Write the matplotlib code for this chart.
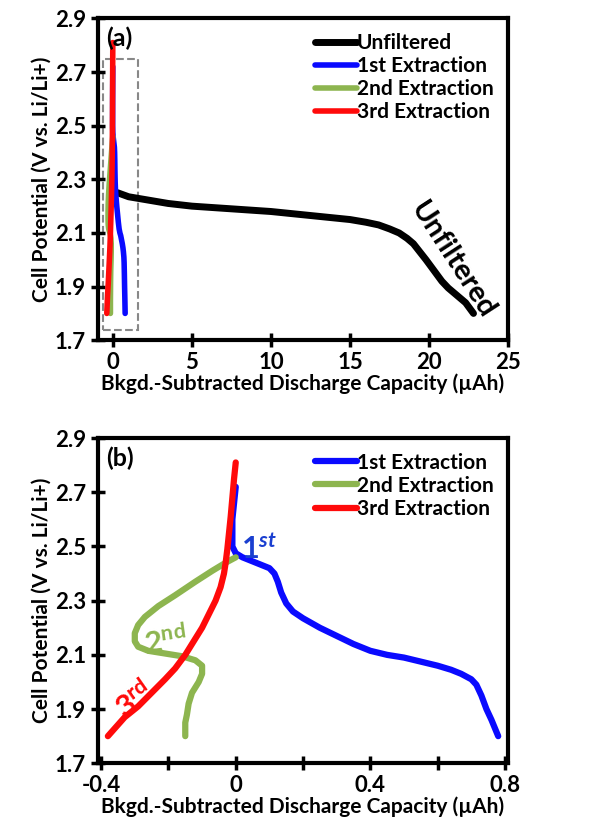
import numpy as np
import matplotlib
matplotlib.use("Agg")
import matplotlib.pyplot as plt
from matplotlib.patches import Rectangle

plt.rcParams['font.family'] = ['Lato', 'DejaVu Sans']
plt.rcParams['font.weight'] = 'bold'
plt.rcParams['mathtext.fontset'] = 'custom'
plt.rcParams['mathtext.rm'] = 'Lato:bold'
plt.rcParams['mathtext.it'] = 'Lato:bold:italic'

# unfiltered discharge curve (µAh, V)
unf_x = [0.3, 1, 2, 3.5, 5, 7.5, 10, 12.5, 15, 16, 16.8, 17.5, 18.1, 18.6, 19.0, 19.4, 19.8, 20.3, 20.8, 21.2, 21.7, 22.3, 22.8]
unf_y = [2.25, 2.235, 2.225, 2.21, 2.20, 2.19, 2.18, 2.165, 2.15, 2.14, 2.13, 2.115, 2.10, 2.08, 2.06, 2.03, 2.00, 1.96, 1.92, 1.895, 1.87, 1.84, 1.80]

# extractions
ext1_x = [0.0, -0.01, -0.01, 0.0, 0.02, 0.05, 0.08, 0.10, 0.115, 0.125, 0.135, 0.15, 0.17, 0.20, 0.25, 0.30, 0.35, 0.40, 0.45, 0.50, 0.55, 0.60, 0.64, 0.67, 0.70, 0.715, 0.73, 0.745, 0.76, 0.78]
ext1_y = [2.72, 2.60, 2.50, 2.475, 2.46, 2.445, 2.43, 2.42, 2.40, 2.37, 2.33, 2.29, 2.26, 2.235, 2.20, 2.17, 2.14, 2.115, 2.10, 2.09, 2.075, 2.06, 2.045, 2.03, 2.01, 1.99, 1.95, 1.90, 1.86, 1.80]
ext2_x = [0.0, -0.03, -0.07, -0.12, -0.18, -0.23, -0.27, -0.29, -0.30, -0.30, -0.29, -0.26, -0.21, -0.16, -0.12, -0.10, -0.10, -0.11, -0.13, -0.14, -0.145, -0.15, -0.15]
ext2_y = [2.46, 2.44, 2.41, 2.37, 2.32, 2.28, 2.24, 2.21, 2.18, 2.15, 2.13, 2.115, 2.105, 2.095, 2.08, 2.06, 2.03, 2.00, 1.96, 1.92, 1.88, 1.85, 1.80]
ext3_x = [0.0, -0.005, -0.01, -0.015, -0.02, -0.025, -0.03, -0.035, -0.045, -0.06, -0.08, -0.10, -0.125, -0.15, -0.18, -0.21, -0.25, -0.29, -0.33, -0.38]
ext3_y = [2.81, 2.75, 2.68, 2.61, 2.55, 2.49, 2.44, 2.40, 2.35, 2.30, 2.25, 2.20, 2.15, 2.10, 2.05, 2.01, 1.96, 1.91, 1.87, 1.80]

labels = ["1st Extraction", "2nd Extraction", "3rd Extraction"]
colors = ["#0a0aff", "#8db54f", "#ff0a0a"]
curves = [(ext1_x, ext1_y), (ext2_x, ext2_y), (ext3_x, ext3_y)]

fig = plt.figure(figsize=(5.89, 8.36), dpi=100)
ax1 = fig.add_axes([0.166, 0.593, 0.697, 0.385])
ax2 = fig.add_axes([0.166, 0.087, 0.697, 0.389])

ax1.plot(unf_x, unf_y, color="black", lw=5, label="Unfiltered", solid_capstyle="round")
for (x, y), c, l in zip(curves, colors, labels):
    ax1.plot(x, y, color=c, lw=4, label=l, solid_capstyle="round")
    ax2.plot(x, y, color=c, lw=4.5, label=l, solid_capstyle="round")

ax1.add_patch(Rectangle((-0.6, 1.74), 2.2, 1.01, fill=False, ec="#888888", ls="--", lw=1.5))
ax1.set_xlim(-0.95, 25)
ax1.set_xticks([0, 5, 10, 15, 20, 25])
ax2.set_xlim(-0.41, 0.81)
ax2.set_xticks([-0.4, 0, 0.4, 0.8])
ax2.set_xticklabels(["-0.4", "0", "0.4", "0.8"])
ax2.set_xticks([-0.2, 0.2, 0.6], minor=True)

for ax, tag in [(ax1, "(a)"), (ax2, "(b)")]:
    ax.set_ylim(1.7, 2.9)
    ax.set_yticks([1.7, 1.9, 2.1, 2.3, 2.5, 2.7, 2.9])
    ax.tick_params(which="both", direction="inout", length=10, width=2.5, labelsize=16)
    for s in ax.spines.values():
        s.set_linewidth(3)
    ax.set_xlabel("Bkgd.-Subtracted Discharge Capacity (µAh)", fontsize=15, fontweight="bold", labelpad=0)
    ax.set_ylabel("Cell Potential (V vs. Li/Li+)", fontsize=15, fontweight="bold", labelpad=2)
    ax.text(0.02, 0.975, tag, transform=ax.transAxes, fontsize=18, fontweight="bold", va="top")
    ax.legend(loc="upper right", frameon=False, handlelength=2.0, handletextpad=0,
              labelspacing=0.15, borderaxespad=0.3, prop={"weight": "bold", "size": 15})

ax1.text(21.5, 2.0, "Unfiltered", rotation=-57, fontsize=21, fontweight="bold", ha="center", va="center")
ax2.text(0.07, 2.49, r"$\mathit{1}^{\mathit{st}}$", color="#1a3fd0", fontsize=22, ha="center", va="center")
ax2.text(-0.21, 2.15, r"$\mathrm{2}^{\mathrm{nd}}$", color="#8db54f", fontsize=22, ha="center", va="center", rotation=8)
ax2.text(-0.3, 1.93, r"$\mathrm{3}^{\mathrm{rd}}$", color="#ff0a0a", fontsize=22, ha="center", va="center", rotation=35)

fig.savefig("out.png", dpi=100)
